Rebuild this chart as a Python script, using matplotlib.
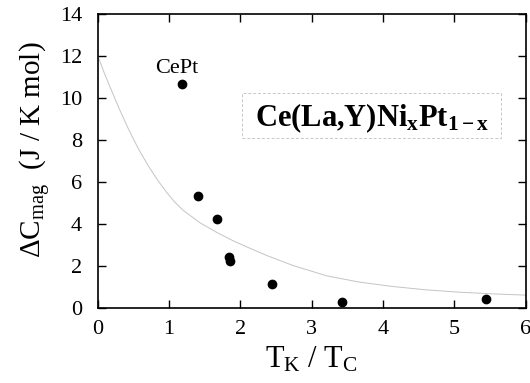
import matplotlib
matplotlib.use("Agg")
import matplotlib.pyplot as plt
from matplotlib.patches import Rectangle

plt.rcParams['font.family'] = ['Liberation Serif', 'DejaVu Serif']
plt.rcParams['mathtext.fontset'] = 'custom'
plt.rcParams['mathtext.rm'] = 'Liberation Serif'
plt.rcParams['mathtext.it'] = 'Liberation Serif:italic'
plt.rcParams['mathtext.bf'] = 'Liberation Serif:bold'

# data points (T_K/T_C, Delta C_mag)
tk_tc = [1.18, 1.41, 1.67, 1.84, 1.85, 2.44, 3.42, 5.44]
dc_mag = [10.67, 5.33, 4.24, 2.43, 2.24, 1.14, 0.29, 0.43]

# theory curve
curve_x = [0.0, 0.1, 0.2, 0.31, 0.43, 0.57, 0.71, 0.84, 0.97, 1.08, 1.2,
           1.44, 1.67, 1.9, 2.13, 2.37, 2.74, 3.21, 3.67, 4.14, 4.61, 5.07,
           5.54, 6.0]
curve_y = [12.05, 11.15, 10.33, 9.45, 8.55, 7.6, 6.78, 6.1, 5.5, 5.05, 4.65,
           4.05, 3.6, 3.2, 2.85, 2.5, 2.02, 1.53, 1.23, 1.02, 0.86, 0.75,
           0.67, 0.61]

xticks = [0, 1, 2, 3, 4, 5, 6]
yticks = [0, 2, 4, 6, 8, 10, 12, 14]

fig = plt.figure(figsize=(5.3, 3.83), dpi=100)
ax = fig.add_axes([0.184, 0.196, 0.808, 0.767])

ax.plot(curve_x, curve_y, color='#c4c4c4', lw=0.7, zorder=2)
ax.plot(tk_tc, dc_mag, 'o', color='black', ms=6, zorder=3)

ax.set_xlim(0, 6)
ax.set_ylim(0, 14)
ax.set_xticks(xticks)
ax.set_yticks(yticks)
ax.tick_params(direction='in', length=6, width=1, top=True, right=True,
               labelsize=16)
ax.tick_params(axis='x', pad=9)
ax.tick_params(axis='y', pad=11)
for sp in ax.spines.values():
    sp.set_linewidth(1.2)

ax.set_xlabel(r'T$_{\mathrm{K}}$ / T$_{\mathrm{C}}$', fontsize=22, labelpad=4)
ax.set_ylabel(r'$\Delta$C$_{\mathrm{mag}}$  (J / K mol)', fontsize=21)
ax.yaxis.set_label_coords(-0.105, 0.54)

ax.text(1.11, 11.43, 'CePt', ha='center', va='center', fontsize=16)

# label box
box = Rectangle((2.02, 8.1), 3.63, 2.14, fill=False, ec='#c8c8c8', lw=0.7,
                ls=(0, (3, 2)), zorder=1)
ax.add_patch(box)
ax.text(3.84, 9.05, r'Ce(La,Y)Ni$_{\mathbf{x}}$Pt$_{\mathbf{1-x}}$',
        ha='center', va='center', fontsize=22, fontweight='bold')

fig.savefig('out.png', dpi=100)
